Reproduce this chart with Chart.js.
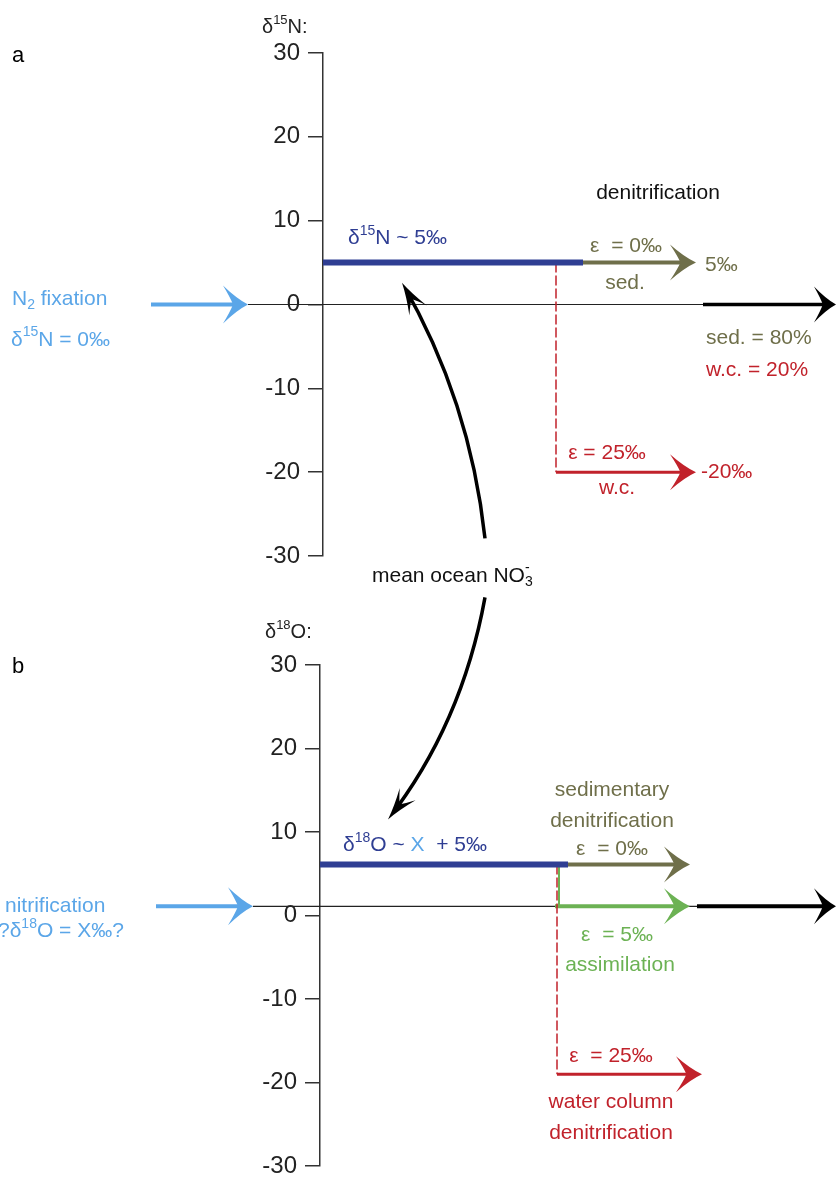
<!DOCTYPE html>
<html lang="en">
<head>
<meta charset="UTF-8">
<title>Nitrate isotope budget</title>
<script src="https://cdn.jsdelivr.net/npm/chart.js"></script>
<style>
  body { margin: 0; background: #fff; }
  .panel { position: absolute; left: 0; top: 0; width: 837px; height: 1177px; }
</style>
</head>
<body>
<div class="panel"><canvas id="panelA"></canvas></div>
<div class="panel"><canvas id="panelB"></canvas></div>
<script>
const yTicks = [-30, -20, -10, 0, 10, 20, 30];

// x is only a layout axis (y axis sits at x = 0), y is the isotope value in ‰
// panel a: δ15N
const aMeanOcean = [[0, 5], [2.60, 5]];
const aSedArrow = [[2.60, 5], [3.73, 5]];
const aWcDrop = [[2.33, 5], [2.33, -20]];
const aWcArrow = [[2.33, -20], [3.73, -20]];
const aFixation = [[-1.72, 0], [-0.75, 0]];
const aBaseline = [[-0.75, 0], [3.80, 0]];
const aNetArrow = [[3.80, 0], [5.13, 0]];
const aCurve = [[1.62, -27.9], [1.47, -11.4], [0.79, 2.6]]; // start, bend, tip

// panel b: δ18O
const bMeanOcean = [[0, 6.1], [2.48, 6.1]];
const bSedArrow = [[2.48, 6.1], [3.70, 6.1]];
const bAssimDrop = [[2.39, 6.1], [2.39, 1.1]];
const bAssimArrow = [[2.35, 1.1], [3.70, 1.1]];
const bWcDrop = [[2.37, 6.1], [2.37, -19]];
const bWcArrow = [[2.37, -19], [3.82, -19]];
const bNitrif = [[-1.64, 1.1], [-0.67, 1.1]];
const bBaseline = [[-0.67, 1.1], [3.77, 1.1]];
const bNetArrow = [[3.77, 1.1], [5.16, 1.1]];
const bCurve = [[1.65, 38.1], [1.42, 22.9], [0.68, 11.5]];

const BLUE = '#2f3e93', OLIVE = '#6f6f4a', RED = '#c1222b', SKY = '#5ba6e8', GREEN = '#6cb254', INK = '#111';
const FONT = '"Liberation Sans", Arial, sans-serif';

function seg(pts, color, width, extra) {
  return Object.assign({
    data: pts.map(([x, y]) => ({ x, y })),
    borderColor: color, backgroundColor: color, borderWidth: width,
    showLine: true, pointRadius: 0, clip: false
  }, extra || {});
}

function headPath(ctx, len, half) {
  ctx.beginPath();
  ctx.moveTo(0, 0);
  ctx.quadraticCurveTo(-len * 0.45, -half * 0.3, -len, -half);
  ctx.quadraticCurveTo(-len * 0.7, -half * 0.35, -len * 0.6, 0);
  ctx.quadraticCurveTo(-len * 0.7, half * 0.35, -len, half);
  ctx.quadraticCurveTo(-len * 0.45, half * 0.3, 0, 0);
  ctx.closePath();
}

// clip away a small box just behind the tip so the shaft doesn't poke out
function clipTip(ctx, t, len, w) {
  ctx.translate(t.x, t.y);
  ctx.rotate(t.ang);
  ctx.beginPath();
  ctx.rect(-5000, -5000, 10000, 10000);
  ctx.rect(-len * 0.55, -w, len * 0.55 + 2, w * 2);
  ctx.clip('evenodd');
  ctx.rotate(-t.ang);
  ctx.translate(-t.x, -t.y);
}

function drawHead(ctx, t, len, half, color) {
  ctx.save();
  ctx.translate(t.x, t.y);
  ctx.rotate(t.ang);
  headPath(ctx, len, half);
  ctx.fillStyle = color;
  ctx.fill();
  ctx.restore();
}

function tipOf(chart, i) {
  const pts = chart.getDatasetMeta(i).data;
  const p = pts[pts.length - 1], q = pts[pts.length - 2];
  return { x: p.x, y: p.y, ang: Math.atan2(p.y - q.y, p.x - q.x) };
}

const arrowPlugin = {
  id: 'arrowHeads',
  beforeDatasetDraw(chart, args) {
    const ds = chart.data.datasets[args.index];
    if (!ds.head) return;
    const ctx = chart.ctx;
    const t = tipOf(chart, args.index);
    if (ds.quad) {
      // curved arrow: start, bend (control point) and tip
      const [a, c, b] = chart.getDatasetMeta(args.index).data;
      ctx.save();
      clipTip(ctx, t, ds.head[0], ds.borderWidth);
      ctx.beginPath();
      ctx.moveTo(a.x, a.y);
      ctx.quadraticCurveTo(c.x, c.y, b.x, b.y);
      ctx.strokeStyle = ds.borderColor;
      ctx.lineWidth = ds.borderWidth;
      ctx.stroke();
      ctx.restore();
      drawHead(ctx, t, ds.head[0], ds.head[1], ds.borderColor);
      return false;
    }
    ctx.save();
    clipTip(ctx, t, ds.head[0], ds.borderWidth);
  },
  afterDatasetDraw(chart, args) {
    const ds = chart.data.datasets[args.index];
    if (!ds.head || ds.quad) return;
    chart.ctx.restore();
    drawHead(chart.ctx, tipOf(chart, args.index), ds.head[0], ds.head[1], ds.borderColor);
  }
};

function drawRich(ctx, parts, x, y, align, size, color) {
  const segs = (Array.isArray(parts) ? parts : [parts]).map(p => typeof p === 'string' ? { t: p } : p);
  const small = Math.round(size * 0.65);
  let w = 0;
  segs.forEach(s => {
    ctx.font = ((s.sup || s.sub) ? small : size) + 'px ' + FONT;
    s.w = ctx.measureText(s.t).width;
    if (!s.stay) w += s.w;
  });
  let cx = align === 'center' ? x - w / 2 : align === 'right' ? x - w : x;
  ctx.textAlign = 'left';
  ctx.textBaseline = 'middle';
  segs.forEach(s => {
    ctx.font = ((s.sup || s.sub) ? small : size) + 'px ' + FONT;
    ctx.fillStyle = s.color || color;
    const dy = s.sup ? -size * 0.36 : s.sub ? size * 0.3 : 0;
    ctx.fillText(s.t, cx, y + dy);
    if (!s.stay) cx += s.w;
  });
}

function notesPlugin(labels) {
  return {
    id: 'notes',
    afterDraw(chart) {
      const ctx = chart.ctx, sx = chart.scales.x, sy = chart.scales.y;
      ctx.save();
      labels.forEach(l => drawRich(ctx, l.parts, sx.getPixelForValue(l.x), sy.getPixelForValue(l.y),
        l.align || 'left', l.size || 21, l.color || INK));
      ctx.restore();
    }
  };
}

function makePanel(id, axisWidth, xMax, pad, datasets, labels) {
  return new Chart(document.getElementById(id), {
    type: 'scatter',
    data: { datasets },
    options: {
      responsive: true,
      maintainAspectRatio: false,
      animation: false,
      events: [],
      layout: { padding: { top: pad[0], bottom: pad[1], left: 0, right: 0 } },
      plugins: { legend: { display: false }, tooltip: { enabled: false } },
      scales: {
        x: { type: 'linear', display: false, min: 0, max: xMax },
        y: {
          type: 'linear', min: -30, max: 30, position: 'left',
          afterFit: s => { s.width = axisWidth; s.paddingTop = 0; s.paddingBottom = 0; },
          afterBuildTicks: s => { s.ticks = yTicks.map(v => ({ value: v })); },
          grid: { drawOnChartArea: false, tickLength: 15, color: '#333', lineWidth: 1.5 },
          border: { color: '#333', width: 1.5 },
          ticks: { padding: 8, color: '#222', font: { family: FONT, size: 24 } }
        }
      }
    },
    plugins: [arrowPlugin, notesPlugin(labels)]
  });
}

const curveOpts = { quad: true, head: [32, 10] };

makePanel('panelA', 323, 5.14, [53, 621], [
  seg(aMeanOcean, BLUE, 6),
  seg(aCurve, '#000', 3.5, curveOpts),
  seg(aSedArrow, OLIVE, 4, { head: [26, 18] }),
  seg(aWcArrow, RED, 3, { head: [26, 18] }),
  seg(aWcDrop, RED, 1.5, { borderDash: [10, 3] }),
  seg(aFixation, SKY, 4, { head: [25, 19] }),
  seg(aNetArrow, '#000', 3.5, { head: [22, 18] }),
  seg(aBaseline, '#222', 1.2)
], [
  { x: -3.11, y: 29.6, parts: 'a', size: 22, color: '#000' },
  { x: -0.61, y: 33.0, parts: ['δ', { t: '15', sup: 1 }, 'N:'], size: 20, color: '#222' },
  { x: 0.25, y: 7.9, parts: ['δ', { t: '15', sup: 1 }, 'N ~ 5‰'], color: BLUE },
  { x: 3.35, y: 13.3, parts: 'denitrification', align: 'center', color: '#111' },
  { x: 3.03, y: 7.0, parts: 'ε  = 0‰', align: 'center', color: OLIVE },
  { x: 3.02, y: 2.6, parts: 'sed.', align: 'center', color: OLIVE },
  { x: 3.82, y: 4.7, parts: '5‰', color: OLIVE },
  { x: 3.83, y: -4.0, parts: 'sed. = 80%', color: OLIVE },
  { x: 3.83, y: -7.8, parts: 'w.c. = 20%', color: RED },
  { x: 2.84, y: -17.7, parts: 'ε = 25‰', align: 'center', color: RED },
  { x: 2.94, y: -21.9, parts: 'w.c.', align: 'center', color: RED },
  { x: 3.78, y: -20, parts: '-20‰', color: RED },
  { x: -3.11, y: 0.65, parts: ['N', { t: '2', sub: 1 }, ' fixation'], color: SKY },
  { x: -3.12, y: -4.2, parts: ['δ', { t: '15', sup: 1 }, 'N = 0‰'], color: SKY },
  { x: 0.49, y: -32.4, parts: ['mean ocean NO', { t: '-', sup: 1, stay: 1 }, { t: '3', sub: 1 }], color: '#111' }
]);

makePanel('panelB', 320, 5.17, [665, 11], [
  seg(bMeanOcean, BLUE, 6),
  seg(bCurve, '#000', 3.5, curveOpts),
  seg(bSedArrow, OLIVE, 4, { head: [26, 18] }),
  seg(bAssimDrop, GREEN, 2),
  seg(bWcDrop, RED, 1.5, { borderDash: [10, 3] }),
  seg(bAssimArrow, GREEN, 4, { head: [26, 18] }),
  seg(bWcArrow, RED, 3, { head: [26, 18] }),
  seg(bNitrif, SKY, 4, { head: [25, 19] }),
  seg(bNetArrow, '#000', 4, { head: [22, 18] }),
  seg(bBaseline, '#222', 1.2)
], [
  { x: -3.08, y: 29.8, parts: 'b', size: 22, color: '#000' },
  { x: -0.55, y: 33.9, parts: ['δ', { t: '18', sup: 1 }, 'O:'], size: 20, color: '#222' },
  { x: 0.23, y: 8.4, parts: ['δ', { t: '18', sup: 1 }, 'O ~ ', { t: 'X', color: SKY }, '  + 5‰'], color: BLUE },
  { x: 2.92, y: 15.0, parts: 'sedimentary', align: 'center', color: OLIVE },
  { x: 2.92, y: 11.3, parts: 'denitrification', align: 'center', color: OLIVE },
  { x: 2.92, y: 7.9, parts: 'ε  = 0‰', align: 'center', color: OLIVE },
  { x: 2.97, y: -2.3, parts: 'ε  = 5‰', align: 'center', color: GREEN },
  { x: 3.00, y: -5.9, parts: 'assimilation', align: 'center', color: GREEN },
  { x: 2.91, y: -16.9, parts: 'ε  = 25‰', align: 'center', color: RED },
  { x: 2.91, y: -22.3, parts: 'water column', align: 'center', color: RED },
  { x: 2.91, y: -26.1, parts: 'denitrification', align: 'center', color: RED },
  { x: -3.15, y: 1.1, parts: 'nitrification', color: SKY },
  { x: -3.22, y: -1.9, parts: ['?δ', { t: '18', sup: 1 }, 'O = X‰?'], color: SKY }
]);
</script>
</body>
</html>
